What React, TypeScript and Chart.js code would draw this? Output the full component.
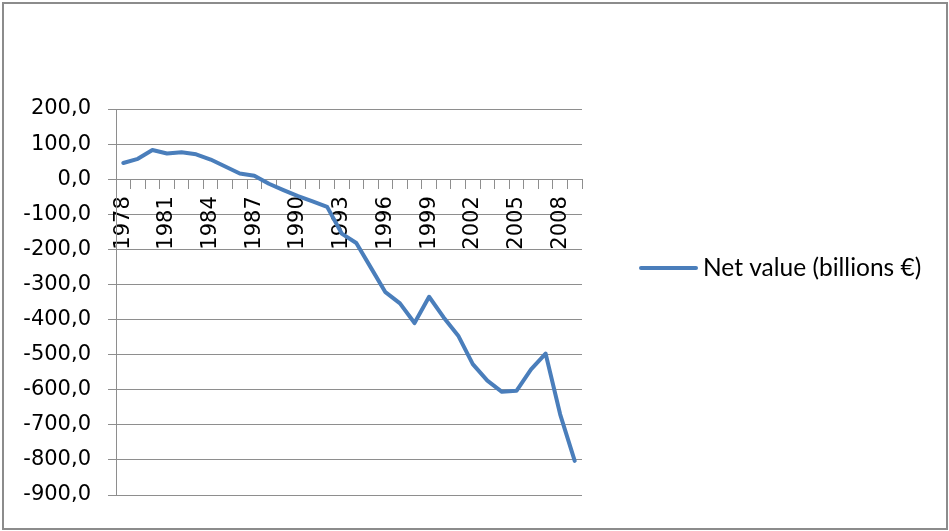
import React, { useEffect, useRef } from "react";
import { Chart, registerables } from "chart.js";

Chart.register(...registerables);

const years: string[] = [
  "1978", "1979", "1980", "1981", "1982", "1983", "1984", "1985", "1986", "1987",
  "1988", "1989", "1990", "1991", "1992", "1993", "1994", "1995", "1996", "1997",
  "1998", "1999", "2000", "2001", "2002", "2003", "2004", "2005", "2006", "2007",
  "2008", "2009",
];

const netValue: number[] = [
  46, 58, 83, 73, 77, 71, 56, 36, 16, 10,
  -13, -31, -48, -63, -79, -155, -182, -252, -322, -354,
  -410, -335, -394, -446, -527, -574, -606, -603, -542, -497,
  -670, -803,
];

const seriesLabel = "Net value (billions €)";
const yMin = -900;
const yMax = 200;
const yStep = 100;

const LINE_COLOR = "#4a7ebb";
const GRID_COLOR = "#8e8e8e";

const legendPlugin = {
  id: "excelLegend",
  afterDraw(chart: any) {
    const { ctx, chartArea } = chart;
    const x0 = chartArea.right + 59;
    const y0 = chartArea.top + 159;
    ctx.save();
    ctx.strokeStyle = LINE_COLOR;
    ctx.lineWidth = 4;
    ctx.lineCap = "round";
    ctx.beginPath();
    ctx.moveTo(x0, y0);
    ctx.lineTo(x0 + 55, y0);
    ctx.stroke();
    ctx.fillStyle = "#000";
    ctx.font = "24.5px Lato";
    ctx.textBaseline = "middle";
    ctx.textAlign = "left";
    ctx.fillText(seriesLabel, x0 + 62, y0);
    ctx.restore();
  },
};

export default function App() {
  const canvasRef = useRef<HTMLCanvasElement | null>(null);

  useEffect(() => {
    if (!canvasRef.current) return;
    const chart = new Chart(canvasRef.current, {
      type: "line",
      data: {
        labels: years,
        datasets: [
          {
            label: seriesLabel,
            data: netValue,
            borderColor: LINE_COLOR,
            backgroundColor: LINE_COLOR,
            borderWidth: 4,
            pointRadius: 0,
            tension: 0,
            borderJoinStyle: "round",
            borderCapStyle: "round",
          },
        ],
      },
      options: {
        animation: false,
        responsive: false,
        maintainAspectRatio: false,
        layout: { padding: { top: 109, bottom: 36, left: 0, right: 367 } },
        plugins: {
          legend: { display: false },
          tooltip: { enabled: false },
        },
        scales: {
          x: {
            type: "category",
            position: { y: 0 } as any,
            offset: true,
            grid: {
              offset: true,
              drawOnChartArea: false,
              drawTicks: true,
              tickLength: 9,
              tickColor: GRID_COLOR,
            },
            border: { display: true, color: GRID_COLOR, width: 1 },
            ticks: {
              autoSkip: false,
              maxRotation: 90,
              minRotation: 90,
              padding: 8,
              color: "#000",
              font: { family: "DejaVu Sans", size: 21 },
              callback: (_v: any, i: number) => (i % 3 === 0 ? years[i] : ""),
            },
          },
          y: {
            min: yMin,
            max: yMax,
            afterFit: (scale: any) => {
              scale.width = 116;
            },
            grid: {
              color: GRID_COLOR,
              lineWidth: 1,
              drawTicks: true,
              tickLength: 8,
              tickColor: GRID_COLOR,
            },
            border: { display: true, color: GRID_COLOR, width: 1 },
            ticks: {
              stepSize: yStep,
              padding: 17,
              color: "#000",
              font: { family: "DejaVu Sans", size: 21 },
              callback: (v: any) => Number(v).toFixed(1).replace(".", ","),
            },
          },
        },
      },
      plugins: [legendPlugin],
    });
    return () => chart.destroy();
  }, []);

  return (
    <div
      style={{
        position: "fixed",
        left: 0,
        top: 0,
        width: 949,
        height: 531,
        background: "#fff",
      }}
    >
      <canvas
        ref={canvasRef}
        width={949}
        height={531}
        style={{ position: "absolute", left: 0, top: 0, width: 949, height: 531 }}
      />
      <div
        style={{
          position: "absolute",
          left: 2,
          top: 2,
          width: 946,
          height: 528,
          boxSizing: "border-box",
          border: "2px solid #8c8c8c",
          pointerEvents: "none",
        }}
      />
    </div>
  );
}
